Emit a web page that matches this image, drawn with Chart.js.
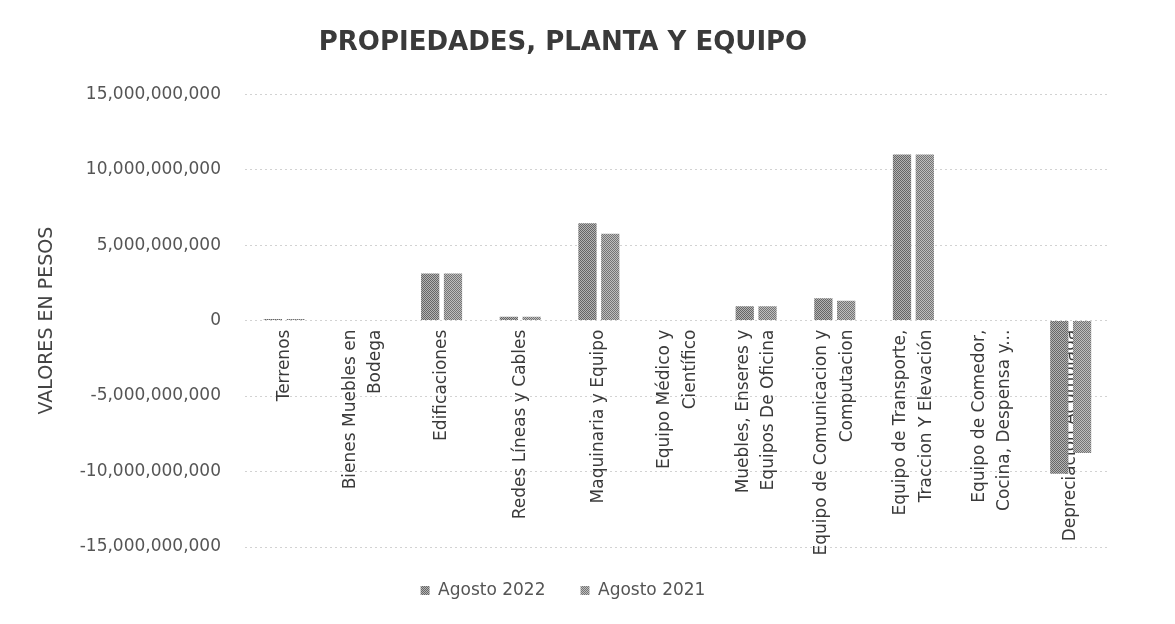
<!DOCTYPE html>
<html>
<head>
<meta charset="utf-8">
<script src="https://cdn.jsdelivr.net/npm/chart.js@4/dist/chart.umd.min.js"></script>
<style>
  html, body { margin: 0; padding: 0; background: #ffffff; }
  #wrap { width: 1175px; height: 624px; position: relative; }
</style>
</head>
<body>
<div id="wrap"><canvas id="c" width="1175" height="624"></canvas></div>
<script>
const categories = [
  "Terrenos",
  ["Bienes Muebles en", "Bodega"],
  "Edificaciones",
  "Redes Líneas y Cables",
  "Maquinaria y Equipo",
  ["Equipo Médico y", "Científico"],
  ["Muebles, Enseres y", "Equipos De Oficina"],
  ["Equipo de Comunicacion y", "Computacion"],
  ["Equipo de Transporte,", "Traccion Y Elevación"],
  ["Equipo de Comedor,", "Cocina, Despensa y..."],
  "Depreciación Acumulada"
];
const agosto2022 = [100000000, 0, 3120000000, 250000000, 6450000000, 0, 950000000, 1480000000, 11000000000, 0, -10150000000];
const agosto2021 = [100000000, 0, 3120000000, 250000000, 5750000000, 0, 950000000, 1320000000, 11000000000, 0, -8780000000];
const seriesNames = ["Agosto 2022", "Agosto 2021"];
const yTicks = [-15000000000, -10000000000, -5000000000, 0, 5000000000, 10000000000, 15000000000];

function makePattern(dark, light) {
  const p = document.createElement('canvas');
  p.width = 4; p.height = 4;
  const g = p.getContext('2d');
  g.fillStyle = light; g.fillRect(0, 0, 4, 4);
  g.fillStyle = dark;
  for (let y = 0; y < 4; y++) for (let x = 0; x < 4; x++) if ((x + y) % 2 === 0) g.fillRect(x, y, 1, 1);
  return document.getElementById('c').getContext('2d').createPattern(p, 'repeat');
}
const pat2022 = makePattern('#666666', '#b4b4b4');
const pat2021 = makePattern('#747474', '#bebebe');

const FONT = "'DejaVu Sans', 'Liberation Sans', sans-serif";

new Chart(document.getElementById('c'), {
  type: 'bar',
  data: {
    labels: categories,
    datasets: [
      { label: seriesNames[0], data: agosto2022, backgroundColor: pat2022, borderWidth: 0, categoryPercentage: 0.58, barPercentage: 0.8 },
      { label: seriesNames[1], data: agosto2021, backgroundColor: pat2021, borderWidth: 0, categoryPercentage: 0.58, barPercentage: 0.8 }
    ]
  },
  options: {
    responsive: false,
    animation: false,
    devicePixelRatio: 1,
    layout: { padding: { left: 16, right: 65, top: 0, bottom: 15 } },
    plugins: {
      title: {
        display: true,
        text: 'PROPIEDADES, PLANTA Y EQUIPO',
        color: '#3a3a3a',
        font: { family: FONT, size: 26, weight: 'bold' },
        padding: { top: 28, bottom: 35 }
      },
      legend: {
        position: 'bottom',
        labels: {
          color: '#555555',
          font: { family: FONT, size: 17 },
          boxWidth: 9, boxHeight: 9,
          padding: 35
        }
      },
      tooltip: { enabled: false }
    },
    scales: {
      x: {
        position: { y: 0 },
        z: 1,
        grid: { display: false, drawTicks: false },
        border: { display: false },
        ticks: {
          color: '#3a3a3a',
          font: { family: FONT, size: 17, lineHeight: 1.5 },
          minRotation: 90, maxRotation: 90,
          padding: 9,
          autoSkip: false
        },
        afterUpdate(scale) {
          if (!scale._centerPatched) {
            scale._centerPatched = true;
            const orig = scale._computeLabelItems;
            scale._computeLabelItems = function (ca) {
              const items = orig.call(this, ca);
              items.forEach(it => {
                if (Array.isArray(it.label) && it.label.length > 1) {
                  it.options.translation[0] -= (it.label.length - 1) * it.font.lineHeight / 2;
                }
              });
              return items;
            };
          }
        }
      },
      y: {
        min: -15000000000,
        max: 15000000000,
        afterBuildTicks(scale) { scale.ticks = yTicks.map(v => ({ value: v })); },
        afterFit(scale) { scale.width = 229; },
        grid: {
          color: '#d2d2d2',
          lineWidth: 1,
          drawTicks: false
        },
        border: { display: false, dash: [2, 3] },
        ticks: {
          color: '#555555',
          font: { family: FONT, size: 17 },
          padding: 24,
          callback: v => v.toLocaleString('en-US')
        },
        title: {
          display: true,
          text: 'VALORES EN PESOS',
          color: '#444444',
          font: { family: FONT, size: 19 },
          padding: { top: 20, bottom: 0 }
        }
      }
    }
  }
});
</script>
</body>
</html>
